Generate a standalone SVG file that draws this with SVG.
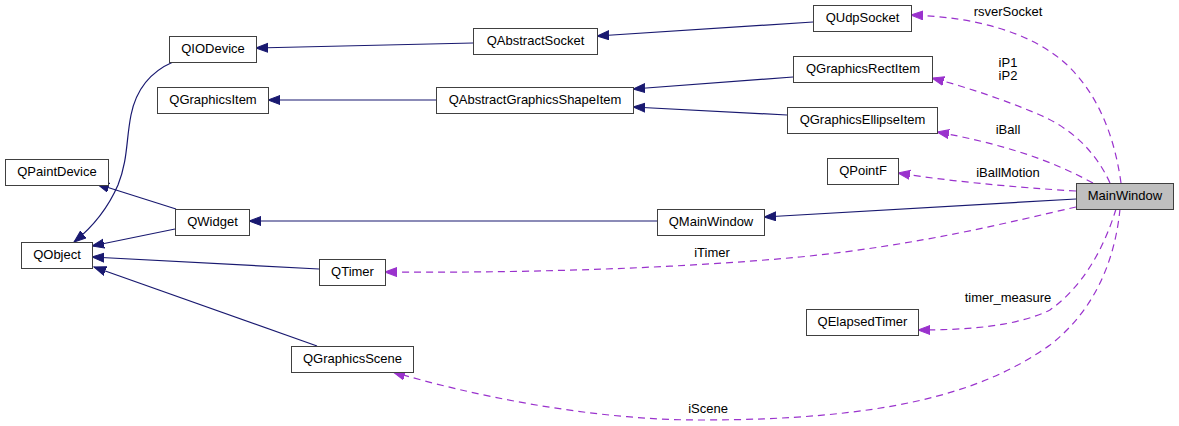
<svg xmlns="http://www.w3.org/2000/svg" width="1179" height="426" viewBox="0 0 1179 426">
<style>
.node rect{fill:#ffffff;stroke:#404040;stroke-width:1}
.node.main rect{fill:#bfbfbf}
text{font-family:"Liberation Sans",Arial,sans-serif;font-size:13px;fill:#000}
.node text{text-anchor:middle}
.lbl{text-anchor:middle}
.inh{fill:none;stroke:#191970;stroke-width:1.2;marker-end:url(#ah)}
.use{fill:none;stroke:#9a32cd;stroke-width:1.2;stroke-dasharray:7,5;marker-end:url(#au)}
</style>
<defs>
<marker id="ah" markerUnits="userSpaceOnUse" markerWidth="13" markerHeight="11" refX="12" refY="5" orient="auto">
<path d="M0,0.5 L12,5 L0,9.5 z" fill="#191970" stroke="#191970" stroke-width="1"/>
</marker>
<marker id="au" markerUnits="userSpaceOnUse" markerWidth="13" markerHeight="11" refX="12" refY="5" orient="auto">
<path d="M0,0.5 L12,5 L0,9.5 z" fill="#9a32cd" stroke="#9a32cd" stroke-width="1"/>
</marker>
</defs>
<rect width="1179" height="426" fill="#ffffff"/>
<g id="connectors">
<path class="inh" d="M473,43 L256,48"/>
<path class="inh" d="M813,22 L597,36"/>
<path class="inh" d="M436,100 L268,100"/>
<path class="inh" d="M793,77 L633,89"/>
<path class="inh" d="M787,115 L633,107"/>
<path class="inh" d="M173,62 C150,72 136,90 131,115 C126,140 128,160 118,185 C108,208 94,226 74,242"/>
<path class="inh" d="M176,209 L97,184"/>
<path class="inh" d="M175,229 L92,246"/>
<path class="inh" d="M319,269 L92,257"/>
<path class="inh" d="M317,346 L94,267"/>
<path class="inh" d="M657,221 L249,221"/>
<path class="inh" d="M1076,199 L764,217"/>
<path class="use" d="M1121,183 C1115,140 1100,95 1065,63 C1030,32 975,17 911,15"/>
<path class="use" d="M1110,183 C1095,150 1070,128 1040,115 C1010,102 970,88 932,78"/>
<path class="use" d="M1093,183 C1065,168 1040,158 1013,150 C990,143 965,137 937,132"/>
<path class="use" d="M1076,191 C1040,189 960,183 898,173"/>
<path class="use" d="M1076,207 C1010,222 920,245 800,257 C660,270 500,273 385,272"/>
<path class="use" d="M1116,209 C1105,245 1085,285 1050,310 C1015,327 965,330 918,330"/>
<path class="use" d="M1120,209 C1115,260 1095,310 1050,345 C980,395 880,420 700,420 C590,420 470,395 393,372"/>
<text class="lbl" x="1008" y="16">rsverSocket</text>
<text class="lbl" x="1008" y="67">iP1</text>
<text class="lbl" x="1008" y="80">iP2</text>
<text class="lbl" x="1008" y="134">iBall</text>
<text class="lbl" x="1008" y="177">iBallMotion</text>
<text class="lbl" x="712" y="257">iTimer</text>
<text class="lbl" x="1008" y="302">timer_measure</text>
<text class="lbl" x="708" y="413">iScene</text>
</g>
<g id="QUdpSocket" class="node"><rect x="813.5" y="5.5" width="98" height="26"/><text x="862.5" y="22">QUdpSocket</text></g>
<g id="QIODevice" class="node"><rect x="169.5" y="36.5" width="87" height="26"/><text x="213" y="53">QIODevice</text></g>
<g id="QAbstractSocket" class="node"><rect x="473.5" y="28.5" width="124" height="26"/><text x="535.5" y="45">QAbstractSocket</text></g>
<g id="QGraphicsRectItem" class="node"><rect x="793.5" y="56.5" width="139" height="26"/><text x="863" y="73">QGraphicsRectItem</text></g>
<g id="QGraphicsItem" class="node"><rect x="157.5" y="87.5" width="111" height="26"/><text x="213" y="104">QGraphicsItem</text></g>
<g id="QAbstractGraphicsShapeItem" class="node"><rect x="436.5" y="87.5" width="197" height="26"/><text x="535" y="104">QAbstractGraphicsShapeItem</text></g>
<g id="QGraphicsEllipseItem" class="node"><rect x="787.5" y="107.5" width="150" height="26"/><text x="862.5" y="124">QGraphicsEllipseItem</text></g>
<g id="QPaintDevice" class="node"><rect x="5.5" y="159.5" width="103" height="26"/><text x="57" y="176">QPaintDevice</text></g>
<g id="QPointF" class="node"><rect x="827.5" y="158.5" width="71" height="26"/><text x="863" y="175">QPointF</text></g>
<g id="MainWindow" class="node main"><rect x="1076.5" y="183.5" width="97" height="26"/><text x="1125" y="200">MainWindow</text></g>
<g id="QWidget" class="node"><rect x="175.5" y="209.5" width="74" height="26"/><text x="212.5" y="226">QWidget</text></g>
<g id="QMainWindow" class="node"><rect x="657.5" y="209.5" width="107" height="26"/><text x="711" y="226">QMainWindow</text></g>
<g id="QObject" class="node"><rect x="21.5" y="242.5" width="71" height="26"/><text x="57" y="259">QObject</text></g>
<g id="QTimer" class="node"><rect x="319.5" y="259.5" width="66" height="26"/><text x="352.5" y="276">QTimer</text></g>
<g id="QElapsedTimer" class="node"><rect x="806.5" y="309.5" width="112" height="26"/><text x="862.5" y="326">QElapsedTimer</text></g>
<g id="QGraphicsScene" class="node"><rect x="291.5" y="346.5" width="122" height="26"/><text x="352.5" y="363">QGraphicsScene</text></g>
</svg>
